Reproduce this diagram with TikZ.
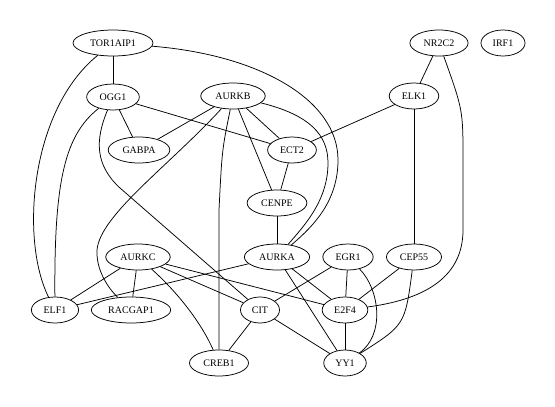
\documentclass[tikz,border=0pt]{standalone}
\usepackage{fontspec}
\setmainfont{Liberation Serif}
\usetikzlibrary{shapes.geometric}
\begin{document}
\begin{tikzpicture}[x=1pt,y=-1pt,
  gnode/.style={draw, ellipse, line width=0.75pt, inner xsep=5.3pt, inner ysep=2pt,
    minimum height=26pt, minimum width=39pt, font=\fontsize{10}{12}\selectfont},
  every path/.style={line width=0.75pt}]
\useasboundingbox (0,0) rectangle (555,407);
\node[gnode] (TOR) at (113,43) {TOR1AIP1};
\node[gnode] (OGG1) at (113,97) {OGG1};
\node[gnode] (AURKB) at (233,96) {AURKB};
\node[gnode] (GABPA) at (139,150) {GABPA};
\node[gnode] (ECT2) at (292,150) {ECT2};
\node[gnode] (NR2C2) at (439,43) {NR2C2};
\node[gnode] (IRF1) at (503,43) {IRF1};
\node[gnode] (ELK1) at (414,96) {ELK1};
\node[gnode] (CENPE) at (277,203) {CENPE};
\node[gnode] (AURKA) at (277,257) {AURKA};
\node[gnode] (EGR1) at (348,257) {EGR1};
\node[gnode] (CEP55) at (414,257) {CEP55};
\node[gnode] (AURKC) at (138,257) {AURKC};
\node[gnode] (ELF1) at (55,310) {ELF1};
\node[gnode] (RACGAP1) at (131,310) {RACGAP1};
\node[gnode] (CIT) at (260,310) {CIT};
\node[gnode] (E2F4) at (345,310) {E2F4};
\node[gnode] (CREB1) at (219,363) {CREB1};
\node[gnode] (YY1) at (345,363) {YY1};

\draw (TOR) -- (OGG1);
\draw (TOR) .. controls (30,110) and (20,240) .. (ELF1);
\draw (TOR) .. controls (260,55) and (338,100) .. (338,160) .. controls (338,200) and (315,225) .. (AURKA);
\draw (OGG1) -- (GABPA);
\draw (OGG1) -- (ECT2);
\draw (OGG1) .. controls (65,135) and (54,180) .. (ELF1);
\draw (OGG1) .. controls (95,140) and (95,165) .. (120,188) -- (CIT);
\draw (AURKB) -- (GABPA);
\draw (AURKB) -- (ECT2);
\draw (AURKB) -- (CENPE);
\draw (AURKB) .. controls (170,165) and (100,215) .. (97,250) .. controls (96,270) and (108,288) .. (RACGAP1);
\draw (AURKB) .. controls (222,150) .. (219,210) -- (CREB1);
\draw (AURKB) .. controls (310,115) and (328,135) .. (328,163) .. controls (328,200) and (305,225) .. (AURKA);
\draw (ECT2) -- (CENPE);
\draw (ECT2) -- (ELK1);
\draw (NR2C2) -- (ELK1);
\draw (NR2C2) .. controls (463,110) .. (463,160) -- (463,230) .. controls (463,280) and (420,300) .. (E2F4);
\draw (ELK1) -- (CEP55);
\draw (CENPE) -- (AURKA);
\draw (AURKA) -- (ELF1);
\draw (AURKA) -- (E2F4);
\draw (AURKA) -- (YY1);
\draw (AURKC) -- (ELF1);
\draw (AURKC) -- (RACGAP1);
\draw (AURKC) -- (CIT);
\draw (AURKC) -- (E2F4);
\draw (AURKC) .. controls (175,290) and (200,320) .. (CREB1);
\draw (EGR1) -- (CIT);
\draw (EGR1) -- (E2F4);
\draw (EGR1) .. controls (380,290) and (385,335) .. (YY1);
\draw (CEP55) -- (E2F4);
\draw (CEP55) .. controls (405,325) .. (YY1);
\draw (CIT) -- (CREB1);
\draw (CIT) -- (YY1);
\draw (E2F4) -- (YY1);
\end{tikzpicture}
\end{document}
